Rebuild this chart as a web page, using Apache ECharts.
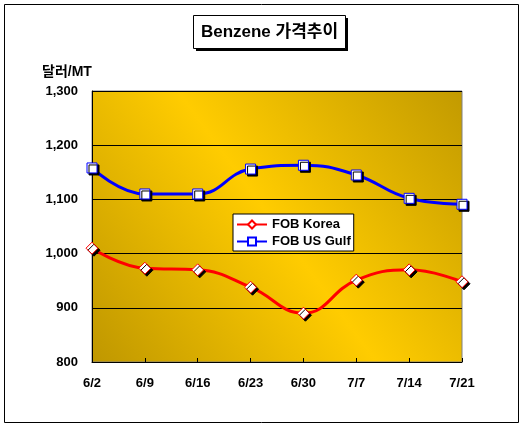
<!DOCTYPE html>
<html>
<head>
<meta charset="utf-8">
<script src="https://cdn.jsdelivr.net/npm/echarts@6/dist/echarts.min.js"></script>
<style>
html,body{margin:0;padding:0;background:#fff;}
#c{width:524px;height:431px;}
</style>
</head>
<body>
<div id="c"></div>
<script>
const categories = ['6/2','6/9','6/16','6/23','6/30','7/7','7/14','7/21'];
const fobKorea = [1010, 973, 970, 938, 890, 951, 970, 948];
const fobUSGulf = [1158, 1110, 1110, 1156, 1163, 1145, 1102, 1091];
const seriesNames = ['FOB Korea', 'FOB US Gulf'];
const yTicks = [800, 900, 1000, 1100, 1200, 1300];
const titleText = 'Benzene 가격추이';
const yUnit = '달러/MT';

const chart = echarts.init(document.getElementById('c'), null, {renderer:'canvas'});
const fontFam = '"Liberation Sans", Arial, "Noto Sans CJK KR", sans-serif';

chart.setOption({
  animation: false,
  backgroundColor: '#fff',
  graphic: [
    {type:'rect', shape:{x:4.5,y:4.5,width:514,height:418}, style:{fill:'#fff', stroke:'#000', lineWidth:1}, z:-10},
    {type:'rect', shape:{x:196,y:18,width:152,height:33}, style:{fill:'#000'}, z:1},
    {type:'rect', shape:{x:193.5,y:15.5,width:152,height:33}, style:{fill:'#fff', stroke:'#000', lineWidth:1}, z:2},
    {type:'text', x:269.5, y:32.5, style:{text:titleText, fill:'#000', font:'bold 17px ' + fontFam, textAlign:'center', textVerticalAlign:'middle'}, z:3},
    {type:'text', x:42, y:72, style:{text:yUnit, fill:'#000', font:'bold 14px ' + fontFam, textAlign:'left', textVerticalAlign:'middle'}, z:3}
  ],
  grid: {
    left: 92, top: 91, right: 62, bottom: 69,
    show: true,
    borderColor: '#808080',
    borderWidth: 1,
    backgroundColor: new echarts.graphic.LinearGradient(0, 1, 1, 0, [
      {offset: 0, color: '#BF9700'},
      {offset: 0.5, color: '#FFCC00'},
      {offset: 1, color: '#C29A00'}
    ])
  },
  legend: {
    left: 233, top: 214,
    orient: 'vertical',
    backgroundColor: '#fff',
    borderColor: '#000',
    borderWidth: 1,
    borderRadius: 0,
    padding: [4, 3, 3, 3],
    itemGap: 4,
    itemWidth: 30,
    itemHeight: 10,
    data: seriesNames,
    textStyle: {fontFamily: fontFam, fontWeight: 'bold', fontSize: 13, color: '#000'}
  },
  xAxis: {
    type: 'category',
    data: categories,
    boundaryGap: false,
    axisLine: {lineStyle: {color: '#000', width: 1}},
    axisTick: {inside: true, length: 4, lineStyle: {color: '#000'}},
    axisLabel: {fontFamily: fontFam, fontWeight: 'bold', fontSize: 13, color: '#000', margin: 15},
    splitLine: {show: false}
  },
  yAxis: {
    type: 'value',
    min: yTicks[0], max: yTicks[yTicks.length-1], interval: 100,
    axisLine: {show: true, lineStyle: {color: '#000', width: 1}},
    axisTick: {show: false},
    axisLabel: {
      fontFamily: fontFam, fontWeight: 'bold', fontSize: 13, color: '#000', margin: 14,
      formatter: v => v.toLocaleString('en-US')
    },
    splitLine: {show: true, lineStyle: {color: '#000', width: 1}}
  },
  series: [
    {
      name: seriesNames[0], type: 'line', data: fobKorea, smooth: 0.45,
      symbol: 'diamond', symbolSize: 12,
      lineStyle: {color: '#FF0000', width: 3},
      itemStyle: {color: '#fff', borderColor: '#FF0000', borderWidth: 1,
        shadowColor: '#000', shadowOffsetX: 2, shadowOffsetY: 2, shadowBlur: 0},
      z: 3
    },
    {
      name: seriesNames[1], type: 'line', data: fobUSGulf, smooth: 0.45,
      symbol: 'rect', symbolSize: 10,
      lineStyle: {color: '#0000FF', width: 3},
      itemStyle: {color: '#fff', borderColor: '#0000FF', borderWidth: 1,
        shadowColor: '#000', shadowOffsetX: 2, shadowOffsetY: 2, shadowBlur: 0},
      z: 3
    }
  ]
});
</script>
</body>
</html>
